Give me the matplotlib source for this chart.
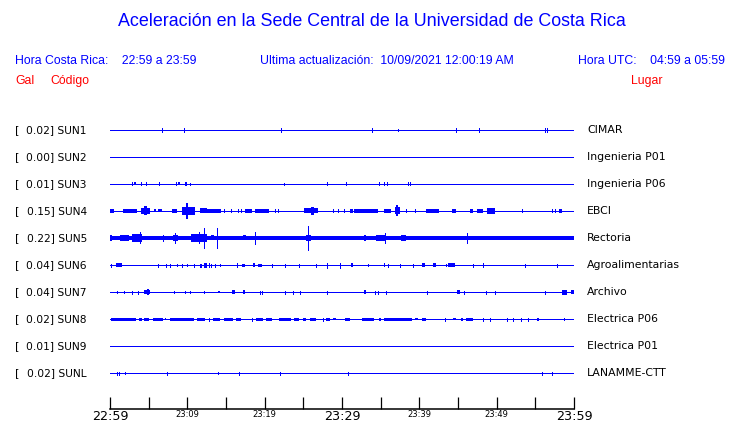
"""
Acceleration traces, Sede Central UCR - last hour
"""

import matplotlib
matplotlib.use("Agg")
import matplotlib.pyplot as plt

stations = ["SUN1", "SUN2", "SUN3", "SUN4", "SUN5", "SUN6", "SUN7", "SUN8", "SUN9", "SUNL"]
peaks = [0.02, 0.00, 0.01, 0.15, 0.22, 0.04, 0.04, 0.02, 0.01, 0.02]
places = ["CIMAR", "Ingenieria P01", "Ingenieria P06", "EBCI", "Rectoria",
          "Agroalimentarias", "Archivo", "Electrica P06", "Electrica P01", "LANAMME-CTT"]

tick_minutes = [0, 5, 10, 15, 20, 25, 30, 35, 40, 45, 50, 55, 60]
tick_labels = ["22:59", "", "23:09", "", "23:19", "", "23:29", "", "23:39", "", "23:49", "", "23:59"]
big_labels = ["22:59", "23:29", "23:59"]

# events per trace: (start minute, end minute, half amplitude in screen px)
sun1 = [(6.67, 6.67, 1.3), (9.6, 9.6, 1.3), (22.1, 22.1, 1.3), (33.9, 33.9, 1.3), (37.2, 37.2, 0.8),
        (44.7, 44.7, 1.3), (47.7, 47.7, 1.3), (56.2, 56.2, 1.3), (56.5, 56.5, 1.3)]
sun2 = []
sun3 = [(2.8, 2.8, 1), (3.1, 3.3, 1), (4.0, 4.0, 1), (4.6, 4.6, 1), (6.3, 6.3, 1), (8.5, 8.5, 1),
        (8.8, 9.0, 1), (9.7, 9.9, 1.2), (10.4, 10.4, 0.8), (22.5, 22.5, 0.8), (28.0, 28.0, 1),
        (30.5, 30.7, 1.2), (34.8, 34.8, 1), (35.4, 35.6, 1.2), (35.8, 35.8, 1), (38.5, 38.5, 1),
        (38.8, 38.8, 1)]
sun4 = [(0.0, 0.52, 1.3), (1.72, 3.44, 1.3), (4.0, 5.16, 2.5), (4.43, 4.73, 4), (5.72, 5.94, 1),
        (6.24, 6.67, 1), (7.96, 8.6, 1.7), (9.25, 10.97, 3.3), (9.85, 10.1, 7.3), (11.6, 12.5, 2),
        (12.5, 14.4, 1.3), (14.8, 14.8, 1), (15.7, 15.7, 1), (16.6, 16.6, 1), (17.0, 17.0, 1),
        (17.5, 18.3, 1.3), (18.7, 20.6, 1.3), (21.3, 21.3, 1), (21.7, 21.7, 1), (25.1, 26.9, 2),
        (26.0, 26.4, 3.5), (28.8, 28.8, 1), (29.5, 29.5, 1), (30.2, 30.2, 1), (31.0, 31.4, 1.3),
        (31.6, 34.6, 1.3), (35.4, 36.3, 1.3), (36.8, 37.5, 3), (37.0, 37.2, 5), (38.3, 38.3, 1),
        (39.4, 39.4, 1), (40.9, 42.6, 1.7), (44.2, 44.7, 1.3), (46.6, 47.0, 1.3), (47.4, 48.2, 1.3),
        (48.8, 49.8, 2.3), (53.3, 53.3, 1), (57.2, 57.2, 1), (57.6, 57.6, 1), (58.1, 58.5, 1.3)]
sun5 = [(0.0, 60.0, 1.2), (0.0, 0.2, 2.7), (1.3, 2.4, 2.7), (2.8, 4.1, 3.3), (3.9, 4.0, 5.5),
        (6.8, 6.8, 2.7), (8.2, 8.8, 2.7), (8.45, 8.45, 4), (9.25, 10.5, 1.5), (10.5, 12.5, 3.3),
        (11.5, 11.5, 5), (12.1, 12.1, 9), (13.0, 13.5, 2), (13.8, 13.8, 9.3), (14.2, 15.1, 1.5),
        (17.2, 17.6, 2), (18.8, 18.8, 5.5), (21.6, 21.9, 1.7), (22.4, 22.8, 1.3), (25.3, 26.0, 2.3),
        (25.6, 25.6, 11.3), (32.9, 33.1, 2.7), (34.4, 35.7, 2.7), (35.5, 35.5, 4.7), (37.6, 38.3, 2.7),
        (42.2, 43.0, 1.7), (46.1, 46.1, 4), (47.1, 47.5, 1.3), (49.7, 50.3, 1.7), (58.7, 59.6, 1.3)]
sun6 = [(0.1, 0.1, 1), (0.77, 1.5, 1.3), (6.15, 6.15, 1), (7.2, 7.2, 1), (7.8, 7.8, 1),
        (8.6, 8.6, 0.5), (9.3, 9.3, 1), (9.9, 9.9, 0.7), (10.8, 10.8, 1), (11.6, 11.6, 1),
        (11.8, 11.8, 1), (12.2, 12.5, 2), (12.8, 12.8, 1.3), (13.1, 13.1, 1), (13.6, 13.6, 1),
        (14.2, 14.2, 0.5), (16.4, 16.4, 1.3), (17.1, 17.4, 1), (18.5, 18.8, 1.3), (19.2, 19.6, 1),
        (20.9, 20.9, 1), (22.6, 22.6, 1), (24.4, 24.4, 1), (26.7, 26.7, 1), (28.1, 28.1, 2),
        (29.8, 29.8, 2), (31.1, 31.4, 1.3), (33.3, 33.3, 0.5), (35.4, 35.6, 1.3), (36.0, 36.0, 1),
        (37.5, 37.5, 1), (39.2, 39.2, 1), (40.4, 40.7, 1.3), (41.8, 42.2, 1.3), (43.4, 43.4, 0.5),
        (43.7, 44.6, 1.5), (46.9, 46.9, 1), (48.2, 48.2, 1.3), (53.6, 53.6, 1), (57.8, 57.8, 1)]
sun7 = [(0.86, 0.86, 0.7), (1.85, 1.85, 0.7), (2.8, 2.8, 1), (3.6, 3.6, 1), (4.4, 5.2, 1.5),
        (4.8, 5.0, 2.3), (8.3, 8.3, 0.7), (9.7, 9.7, 0.7), (10.4, 10.4, 0.7), (12.2, 12.2, 0.7),
        (14.0, 14.2, 0.5), (15.8, 16.1, 1.3), (17.2, 17.5, 1.3), (19.4, 19.4, 1), (19.6, 19.6, 1),
        (22.6, 22.6, 1), (23.7, 23.7, 1), (24.6, 24.6, 1), (28.1, 28.1, 1), (32.9, 33.1, 1.3),
        (34.3, 34.3, 1), (34.7, 34.7, 1), (35.7, 35.7, 1), (41.0, 41.0, 1), (44.9, 45.2, 1.3),
        (45.8, 45.8, 1), (48.6, 48.6, 1), (49.8, 49.8, 1), (56.3, 56.3, 1), (58.5, 59.1, 2),
        (59.6, 60.0, 1.3)]
sun8 = [(0.1, 3.4, 1), (3.8, 4.2, 1), (4.4, 5.1, 1), (5.6, 6.9, 1), (7.1, 7.3, 0.8), (7.7, 10.8, 1),
        (11.2, 12.3, 1), (12.8, 12.8, 1), (13.3, 14.2, 1), (14.8, 15.9, 1), (16.3, 17.0, 1),
        (18.3, 18.3, 1), (18.9, 19.8, 1), (20.2, 20.9, 1), (21.8, 23.4, 1), (23.8, 24.5, 1),
        (24.9, 25.4, 1), (25.9, 26.7, 1), (27.5, 27.5, 1), (27.9, 28.4, 1), (28.8, 29.2, 0.7),
        (30.4, 31.0, 1), (32.6, 34.2, 1), (34.8, 35.1, 1), (35.4, 39.1, 1), (39.4, 39.8, 0.8),
        (40.4, 40.9, 1), (43.3, 43.3, 1), (44.4, 44.7, 0.8), (45.4, 45.6, 1), (46.0, 46.9, 1),
        (48.2, 48.2, 1), (49.2, 49.2, 1), (51.4, 51.4, 1), (52.1, 52.1, 1), (53.1, 53.1, 1),
        (54.1, 54.1, 1), (55.2, 55.5, 1), (58.7, 58.7, 0.7)]
sun9 = []
sunl = [(0.86, 0.86, 1), (1.2, 1.2, 1), (2.0, 2.0, 0.5), (7.4, 7.4, 1), (14.0, 14.0, 0.5),
        (16.7, 16.7, 1), (22.0, 22.0, 1), (30.8, 30.8, 1), (55.8, 55.8, 1), (57.2, 57.2, 1)]
traces = [sun1, sun2, sun3, sun4, sun5, sun6, sun7, sun8, sun9, sunl]

W, H = 740, 423
ROW_PX = 27
PEN = 0.5  # extra half-thickness of the plotting pen, px
BLUE = "#0000ff"
RED = "#ff0000"
HFONT = "Liberation Sans"

fig = plt.figure(figsize=(7.4, 4.23), dpi=100)

# header
fig.text(372 / W, 1 - 22 / H, "Aceleración en la Sede Central de la Universidad de Costa Rica",
         ha="center", va="center", color=BLUE, fontsize=12.9, family=HFONT)
fig.text(15 / W, 1 - 61 / H, "Hora Costa Rica:    22:59 a 23:59", ha="left", va="center",
         color=BLUE, fontsize=8.8, family=HFONT)
fig.text(260 / W, 1 - 61 / H, "Ultima actualización:  10/09/2021 12:00:19 AM", ha="left", va="center",
         color=BLUE, fontsize=8.8, family=HFONT)
fig.text(725 / W, 1 - 61 / H, "Hora UTC:    04:59 a 05:59", ha="right", va="center",
         color=BLUE, fontsize=8.8, family=HFONT)
fig.text(15 / W, 1 - 81 / H, "Gal", ha="left", va="center", color=RED, fontsize=8.8, family=HFONT)
fig.text(50 / W, 1 - 81 / H, "Código", ha="left", va="center", color=RED, fontsize=8.8, family=HFONT)
fig.text(662 / W, 1 - 81 / H, "Lugar", ha="right", va="center", color=RED, fontsize=8.8, family=HFONT)

# traces
top_px, bot_px = 130 - ROW_PX / 2, 373 + ROW_PX / 2
ax = fig.add_axes([110 / W, 1 - bot_px / H, 464 / W, (bot_px - top_px) / H])
ax.set_xlim(0, 60)
ax.set_ylim(len(stations) - 0.5, -0.5)
ax.axis("off")
px = 60 / 464  # minutes per screen pixel, for label offsets

for i, events in enumerate(traces):
    ax.plot([0, 60], [i, i], color=BLUE, lw=0.6, antialiased=False, solid_capstyle="butt")
    for t0, t1, a in events:
        amp = (a + PEN) / ROW_PX
        if t1 > t0:
            ax.bar(t0, 2 * amp, width=t1 - t0, bottom=i - amp, align="edge",
                   color=BLUE, linewidth=0, antialiased=False)
        else:
            ax.vlines(t0, i - amp, i + amp, color=BLUE, lw=0.6, antialiased=False)
    ax.text(-95 * px, i, "[", ha="left", va="center", fontsize=8, family="DejaVu Sans")
    ax.text(-23 * px, i, f"{peaks[i]:.2f}] {stations[i]}", ha="right", va="center",
            fontsize=7.7, family="DejaVu Sans")
    ax.text(60 + 13 * px, i, places[i], ha="left", va="center", fontsize=7.8, family="DejaVu Sans")

# time axis
tax = fig.add_axes([110 / W, 1 - 409 / H, 464 / W, 12 / H])
tax.set_xlim(0, 60)
tax.set_ylim(0, 1)
for s in ["top", "left", "right"]:
    tax.spines[s].set_visible(False)
tax.spines["bottom"].set_linewidth(1.1)
tax.set_yticks([])
tax.set_xticks(tick_minutes)
tax.set_xticklabels(tick_labels)
tax.tick_params(axis="x", direction="in", length=8.5, width=0.9, pad=0.5)
for lab in tax.get_xticklabels():
    if lab.get_text() in big_labels:
        lab.set_fontsize(9.2)
    else:
        lab.set_fontsize(6)

fig.savefig("out.png", dpi=100)
